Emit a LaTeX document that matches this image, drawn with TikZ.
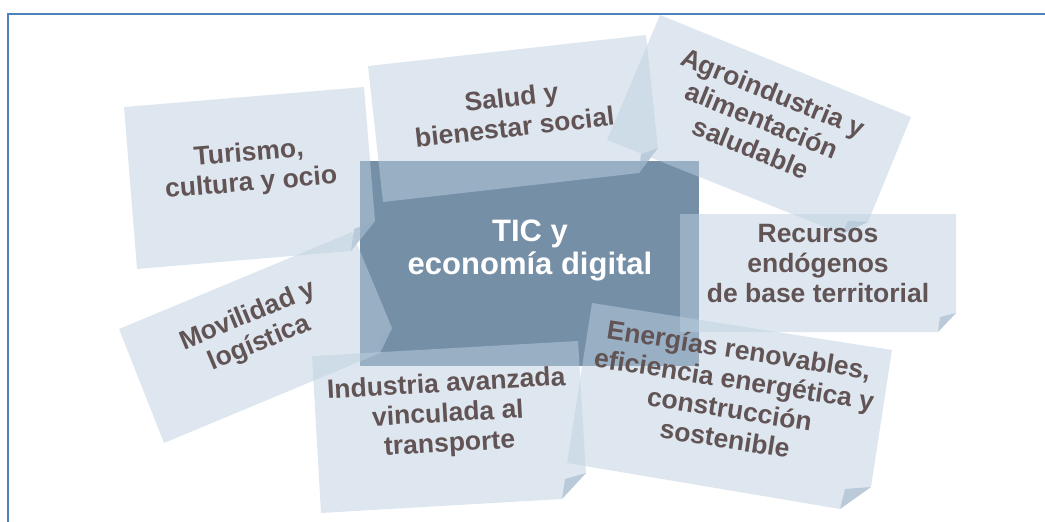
\documentclass[tikz,border=0pt]{standalone}
\usepackage{fontspec}
\setmainfont{Liberation Sans}
\definecolor{notefill}{RGB}{190,208,225}
\definecolor{foldfill}{RGB}{150,172,194}
\definecolor{centerfill}{RGB}{117,143,167}
\definecolor{txt}{RGB}{98,84,85}
\definecolor{frameblue}{RGB}{79,129,189}
\tikzset{
  notestyle/.style={fill=notefill, fill opacity=0.5},
  foldstyle/.style={fill=foldfill, fill opacity=0.5},
  notetext/.style={text=txt, font=\fontsize{26.5}{30}\selectfont\bfseries, align=center, inner sep=0pt},
  centertext/.style={text=white, font=\fontsize{31}{33}\selectfont\bfseries, align=center, inner sep=0pt},
  centerbox/.style={fill=centerfill, inner sep=0pt, anchor=north west, minimum width=339pt, minimum height=205pt},
}
\begin{document}
\begin{tikzpicture}[x=1pt,y=-1pt]
\useasboundingbox (0,0) rectangle (1045,522);
% frame
\coordinate (fbl) at (8,522);
\coordinate (ftl) at (8,14);
\coordinate (ftr) at (1045,14);
\draw[frameblue, line width=2.5pt] (fbl) -- (ftl) -- (ftr);
% central box
\node[centerbox] (center) at (360,161) {};
% Turismo
\fill[notestyle] (124,107) -- (364,87) -- (375,221) -- (351,251) -- (137,269) -- cycle;
\fill[foldstyle] (375,221) -- (351,251) -- (354,229) -- cycle;
% Salud
\fill[notestyle] (368,66) -- (646,35) -- (658,148) -- (639,173) -- (383,202) -- cycle;
\fill[foldstyle] (658,148) -- (639,173) -- (641,154) -- cycle;
% Agroindustria
\fill[notestyle] (660,15) -- (911,117) -- (868,222) -- (842,234) -- (607,140) -- cycle;
\fill[foldstyle] (868,222) -- (842,234) -- (848,221) -- cycle;
% Recursos
\fill[notestyle] (680,214) -- (956,214) -- (956,313) -- (938,332) -- (680,332) -- cycle;
\fill[foldstyle] (956,313) -- (938,332) -- (940,317) -- cycle;
% Movilidad
\fill[notestyle] (119,329) -- (352,232) -- (392,328) -- (380,353) -- (164,443) -- cycle;
\fill[foldstyle] (392,328) -- (380,353) -- (379,338) -- cycle;
% Industria
\fill[notestyle] (312,356) -- (578,341) -- (586,473) -- (562,499) -- (321,513) -- cycle;
\fill[foldstyle] (586,473) -- (562,499) -- (565,479) -- cycle;
% Energias
\fill[notestyle] (592,303) -- (892,350) -- (871,487) -- (840,509) -- (567,463) -- cycle;
\fill[foldstyle] (871,487) -- (840,509) -- (845,489) -- cycle;
% texts
\node[centertext] (tcenter) at (530,250) {TIC y\\economía digital};
\node[notetext, rotate=4.8] (tturismo) at (250,169) {Turismo,\\cultura y ocio};
\node[notetext, rotate=6.4] (tsalud) at (513,112) {Salud y\\bienestar social};
\node[notetext, rotate=-22.1] (tagro) at (762,120) {Agroindustria y\\alimentación\\saludable};
\node[notetext] (trecursos) at (818,264) {Recursos\\endógenos\\de base territorial};
\node[notetext, rotate=22.6] (tmovilidad) at (254,330) {Movilidad y\\logística};
\node[notetext, rotate=3.2] (tindustria) at (448,415) {Industria avanzada\\vinculada al\\transporte};
\node[notetext, rotate=-8.9] (tenergias) at (732,394) {Energías renovables,\\eficiencia energética y\\construcción\\sostenible};
\end{tikzpicture}
\end{document}
